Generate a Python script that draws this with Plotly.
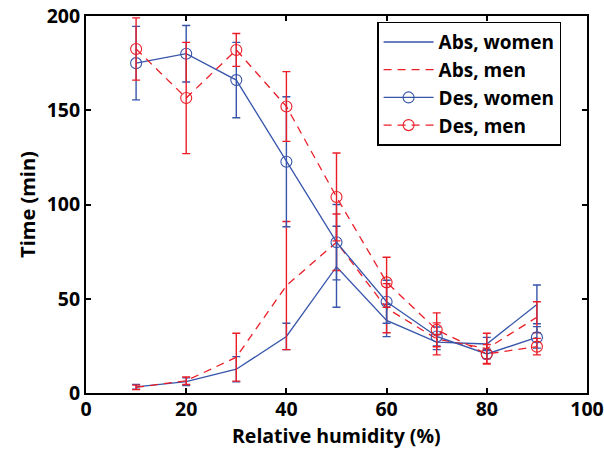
import plotly.graph_objects as go

rh = [10, 20, 30, 40, 50, 60, 70, 80, 90]
abs_women = [3.3, 6.0, 12.6, 30.0, 67.0, 38.5, 27.0, 26.0, 47.0]
abs_women_err = [1.3, 2.0, 6.7, 7.0, 21.5, 8.6, 4.0, 3.5, 10.3]
abs_men = [3.0, 6.5, 19.0, 57.0, 80.0, 45.0, 28.7, 23.5, 40.2]
abs_men_err = [1.2, 2.0, 12.7, 34.0, 15.0, 13.0, 8.5, 8.2, 8.2]
des_women = [175.0, 180.0, 166.0, 122.7, 80.0, 48.4, 30.0, 20.7, 29.5]
des_women_err = [19.5, 15.0, 20.0, 34.5, 20.0, 11.4, 5.0, 2.5, 5.7]
des_men = [182.5, 156.5, 182.0, 152.0, 104.0, 58.7, 33.5, 20.7, 24.6]
des_men_err = [16.5, 29.5, 8.7, 18.5, 23.3, 13.3, 9.0, 5.0, 4.4]

x_ticks = [0, 20, 40, 60, 80, 100]
y_ticks = [0, 50, 100, 150, 200]

BLUE = "rgb(55,85,170)"
RED = "rgb(235,30,40)"
FONT = "Open Sans"

fig = go.Figure()

def add(name, y, err, color, dash, marker):
    fig.add_trace(go.Scatter(
        x=rh, y=y, name=name, mode="lines+markers" if marker else "lines",
        line=dict(color=color, width=1.3, dash=dash),
        marker=dict(symbol="circle-open", size=11, color=color, line=dict(width=1.1, color=color)),
        error_y=dict(type="data", array=err, visible=True, color=color, thickness=1.4, width=4),
    ))

add("Abs, women", abs_women, abs_women_err, BLUE, "solid", False)
add("Abs, men", abs_men, abs_men_err, RED, "8px,6px", False)
add("Des, women", des_women, des_women_err, BLUE, "solid", True)
add("Des, men", des_men, des_men_err, RED, "8px,6px", True)

axis_common = dict(
    showgrid=False, zeroline=False, showline=True, linecolor="black", linewidth=2,
    mirror="ticks", ticks="inside", ticklen=5, tickwidth=1.5, tickcolor="black",
    ticklabeloverflow="allow", automargin=False,
    tickfont=dict(family=FONT, size=19.5, color="black", weight=700),
)

fig.update_layout(
    width=604, height=449,
    margin=dict(l=86, r=17, t=16, b=56, autoexpand=False),
    paper_bgcolor="white", plot_bgcolor="white",
    xaxis=dict(range=[0, 100], tickvals=x_ticks, **axis_common),
    yaxis=dict(range=[0, 200], tickvals=y_ticks,
               title=dict(text="Time (min)", standoff=6,
                          font=dict(family=FONT, size=20, color="black", weight=700)),
               **axis_common),
    legend=dict(x=0.581, y=0.985, xanchor="left", yanchor="top",
                bordercolor="black", borderwidth=1.5, bgcolor="white",
                itemwidth=50,
                font=dict(family=FONT, size=19, color="black", weight=700)),
    showlegend=True,
)

try:
    fig.update_xaxes(ticklabelstandoff=-2)
except Exception:
    pass

fig.add_annotation(
    text="Relative humidity (%)", xref="paper", yref="paper",
    x=0.5, y=(393 - 435.5) / 377, xanchor="center", yanchor="middle",
    showarrow=False, borderpad=0,
    font=dict(family=FONT, size=19.5, color="black", weight=700),
)

fig.write_html("out.html")
